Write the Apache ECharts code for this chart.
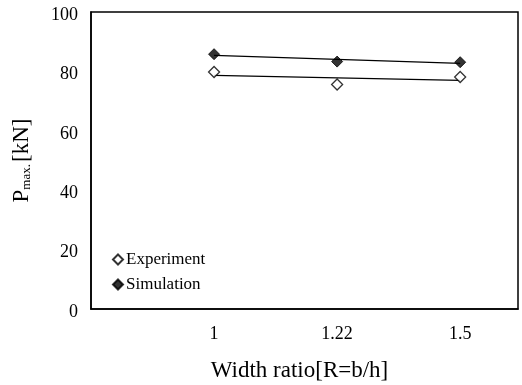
<!DOCTYPE html>
<html>
<head>
<meta charset="utf-8">
<script src="https://cdn.jsdelivr.net/npm/echarts@6/dist/echarts.min.js"></script>
<style>
html,body{margin:0;padding:0;background:#fff;}
#c{width:522px;height:385px;}
</style>
</head>
<body>
<div id="c"></div>
<script>
// Data
var categories = ['1', '1.22', '1.5'];
var experiment = [79.8, 75.6, 78.1];
var simulation = [85.8, 83.3, 83.1];
var yTicks = [0, 20, 40, 60, 80, 100];

var FONT = '"Liberation Serif", "Times New Roman", serif';

function pts(vals) { return vals.map(function (v, i) { return [i + 1, v]; }); }
function trend(vals) {
  var n = vals.length, sx = 0, sy = 0, sxx = 0, sxy = 0;
  vals.forEach(function (v, i) { var x = i + 1; sx += x; sy += v; sxx += x * x; sxy += x * v; });
  var b = (n * sxy - sx * sy) / (n * sxx - sx * sx);
  var a = (sy - b * sx) / n;
  return [[1, a + b], [n, a + b * n]];
}

var chart = echarts.init(document.getElementById('c'), null, {renderer: 'canvas'});
chart.setOption({
  backgroundColor: '#fff',
  animation: false,
  grid: {left: 91, right: 4, top: 12, bottom: 76, show: true, borderColor: '#000', borderWidth: 1.5,
         backgroundColor: 'transparent', outerBoundsMode: 'none', containLabel: false},
  legend: {
    orient: 'vertical', left: 107, top: 246, itemGap: 8, itemWidth: 10, itemHeight: 10,
    data: [
      {name: 'Experiment', icon: 'diamond'},
      {name: 'Simulation', icon: 'diamond'}
    ],
    textStyle: {fontFamily: FONT, fontSize: 17, color: '#000', padding: [4, 0, 0, -2]}
  },
  xAxis: {
    type: 'value', min: 0, max: 3.47, interval: 1,
    axisLine: {lineStyle: {color: '#000', width: 1.5}},
    axisTick: {show: false},
    splitLine: {show: false},
    axisLabel: {
      margin: 16, color: '#000', fontFamily: FONT, fontSize: 18, showMaxLabel: false,
      formatter: function (v) {
        if (Math.abs(v - Math.round(v)) > 1e-6) return '';
        var i = Math.round(v) - 1;
        return (i >= 0 && i < categories.length) ? categories[i] : '';
      }
    },
    name: 'Width ratio[R=b/h]', nameLocation: 'middle', nameGap: 50,
    nameTextStyle: {fontFamily: FONT, fontSize: 23, color: '#000', padding: [0, 10, 0, 0]}
  },
  yAxis: {
    type: 'value', min: yTicks[0], max: yTicks[yTicks.length - 1], interval: 20,
    axisLine: {show: true, lineStyle: {color: '#000', width: 1.5}},
    axisTick: {show: false},
    splitLine: {show: false},
    axisLabel: {margin: 13, color: '#000', fontFamily: FONT, fontSize: 18, verticalAlign: 'top', lineHeight: 6},
    name: '{p|P}{s|max.}{p|[kN]}', nameLocation: 'middle', nameGap: 58, nameRotate: 90,
    nameTextStyle: {
      fontFamily: FONT, color: '#000',
      rich: {
        p: {fontFamily: FONT, fontSize: 23, color: '#000'},
        s: {fontFamily: FONT, fontSize: 13, color: '#000', verticalAlign: 'bottom', padding: [8, 2, 0, 0]}
      }
    }
  },
  series: [
    {
      name: 'Experiment-trend', type: 'line', data: trend(experiment), symbol: 'none',
      lineStyle: {color: '#000', width: 1.2}, silent: true, z: 1
    },
    {
      name: 'Simulation-trend', type: 'line', data: trend(simulation), symbol: 'none',
      lineStyle: {color: '#000', width: 1.2}, silent: true, z: 1
    },
    {
      name: 'Experiment', type: 'scatter', data: pts(experiment), symbol: 'diamond', symbolSize: 11,
      itemStyle: {color: '#fff', borderColor: '#000', borderWidth: 1.3}, z: 3
    },
    {
      name: 'Simulation', type: 'scatter', data: pts(simulation), symbol: 'diamond', symbolSize: 11,
      itemStyle: {color: '#000', borderColor: '#000', borderWidth: 1}, z: 3
    }
  ]
});
</script>
</body>
</html>
